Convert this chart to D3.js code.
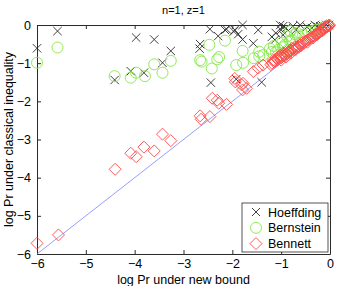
<!DOCTYPE html>
<html>
<head>
<meta charset="utf-8">
<script src="https://cdn.jsdelivr.net/npm/d3@7"></script>
<style>
  body { margin: 0; background: #fff; }
  svg text { font-family: "Liberation Sans", Arial, sans-serif; fill: #000; }
</style>
</head>
<body>
<svg width="341" height="286"></svg>
<script>
// points: [new bound, classical]
let hoeffding = [
  [-6.0, -0.61], [-5.58, -0.16], [-4.41, -1.44], [-4.08, -1.21], [-3.97, -0.33],
  [-3.81, -1.25], [-3.60, -0.38], [-3.43, -0.99], [-3.26, -0.68], [-2.66, -0.50],
  [-2.67, -0.62], [-2.46, -0.11], [-2.44, -1.51], [-2.29, -0.29], [-2.12, -0.11],
  [-2.15, -0.13], [-1.97, -0.17], [-1.95, -0.13], [-1.92, -1.42], [-1.88, -0.24],
  [-1.79, 0], [-1.79, -0.38], [-1.57, -0.48], [-1.47, -0.13], [-1.40, -1.50],
  [-1.02, 0], [-0.96, -0.03], [-1.00, -0.13], [-1.11, -0.21], [-1.19, -0.31],
  [-0.96, -0.26], [-1.13, -0.39], [-0.76, -0.03], [-0.61, 0], [-0.47, -0.05],
  [-0.31, 0], [-0.20, -0.03], [-0.08, 0], [-0.02, 0], [-0.70, -0.13],
  [-0.90, -0.08], [-0.37, -0.08], [-0.25, -0.05], [-0.14, -0.03]
];

let bernstein = [
  [-6.0, -0.99], [-5.58, -0.59], [-4.41, -1.34], [-4.08, -1.38], [-3.97, -1.25],
  [-3.79, -1.34], [-3.60, -1.03], [-3.43, -1.25], [-3.26, -0.94], [-2.66, -0.92],
  [-2.63, -0.96], [-2.47, -0.52], [-2.42, -1.14], [-2.31, -0.90], [-2.27, -0.84],
  [-2.15, -0.41], [-1.92, -1.05], [-1.79, -0.68], [-1.78, -0.99], [-1.56, -0.87],
  [-1.45, -0.70], [-1.45, -0.82], [-1.37, -0.79], [-1.19, -0.71], [-1.11, -0.71],
  [-1.06, -0.65], [-1.00, -0.79], [-0.96, -0.58], [-0.92, -0.52], [-0.86, -0.65],
  [-0.82, -0.42], [-0.78, -0.39], [-0.82, -0.16], [-0.72, -0.24], [-0.63, -0.31],
  [-0.55, -0.26], [-0.45, -0.18], [-0.37, -0.16], [-0.29, -0.13], [-0.20, -0.10],
  [-0.12, -0.05], [-0.04, -0.03], [-1.23, -0.62], [-1.15, -0.55], [-0.98, -0.46],
  [-0.88, -0.30], [-0.68, -0.20]
];

let bennett = [
  [-6.0, -5.72], [-5.56, -5.50], [-4.40, -3.78], [-4.08, -3.36], [-3.97, -3.45],
  [-3.81, -3.20], [-3.60, -3.30], [-3.43, -2.86], [-3.26, -3.03], [-2.66, -2.38],
  [-2.64, -2.47], [-2.46, -2.40], [-2.41, -1.92], [-2.31, -1.97], [-2.28, -2.05],
  [-2.12, -2.08], [-1.95, -1.40], [-1.94, -1.49], [-1.81, -1.57], [-1.79, -1.70],
  [-1.78, -1.53], [-1.71, -1.66], [-1.57, -1.22], [-1.47, -1.13], [-1.37, -1.05],
  [-1.19, -1.00], [-1.16, -0.92], [-1.12, -0.95], [-1.09, -0.87], [-1.05, -0.84],
  [-1.02, -0.79], [-0.99, -0.81], [-0.96, -0.74], [-0.91, -0.72], [-0.85, -0.70],
  [-0.81, -0.66], [-0.78, -0.61], [-0.75, -0.62], [-0.72, -0.57], [-0.66, -0.55],
  [-0.61, -0.52], [-0.58, -0.47], [-0.55, -0.44], [-0.50, -0.43], [-0.44, -0.39],
  [-0.40, -0.33], [-0.37, -0.31], [-0.32, -0.29], [-0.27, -0.26], [-0.23, -0.21],
  [-0.20, -0.17], [-0.17, -0.13], [-0.14, -0.09], [-0.10, -0.06], [-0.07, -0.02],
  [-0.03, -0.01], [-0.01, 0], [-1.21, -1.04], [-1.14, -0.97], [-1.07, -0.91],
  [-1.00, -0.86], [-0.94, -0.80], [-0.88, -0.76], [-0.83, -0.71], [-0.80, -0.74],
  [-0.74, -0.66], [-0.69, -0.60], [-0.64, -0.58], [-0.59, -0.54], [-0.53, -0.48],
  [-0.48, -0.41], [-0.46, -0.45], [-0.42, -0.36], [-0.35, -0.34], [-0.30, -0.25],
  [-0.25, -0.23], [-0.21, -0.18], [-0.16, -0.16], [-0.12, -0.11], [-0.08, -0.05],
  [-0.05, -0.04], [-0.02, -0.02], [-1.00, -0.92], [-0.90, -0.84], [-0.70, -0.64]
];

let xTicks = [-6, -5, -4, -3, -2, -1, 0];
let yTicks = [-6, -5, -4, -3, -2, -1, 0];
let legendNames = ["Hoeffding", "Bernstein", "Bennett"];

let svg = d3.select("svg");
let plotLeft = 37, plotRight = 330, plotTop = 25, plotBottom = 254;

let x = d3.scaleLinear().domain([-6, 0]).range([plotLeft, plotRight]);
let y = d3.scaleLinear().domain([-6, 0]).range([plotBottom, plotTop]);

let green = "#84e84a";
let red = "#ff4848";
let gray = "#2a2a2a";

// title and labels
svg.append("text")
  .attr("x", (plotLeft + plotRight) / 2).attr("y", 14)
  .attr("text-anchor", "middle").attr("font-size", "11px")
  .text("n=1, z=1");

svg.append("text")
  .attr("x", (plotLeft + plotRight) / 2).attr("y", 283.5)
  .attr("text-anchor", "middle").attr("font-size", "12.5px")
  .text("log Pr under new bound");

svg.append("text")
  .attr("transform", "translate(13," + ((plotTop + plotBottom) / 2) + ") rotate(-90)")
  .attr("text-anchor", "middle").attr("font-size", "12.5px")
  .text("log Pr under classical inequality");

// axes, ticks inside
let fmt = d => d < 0 ? "\u2212" + Math.abs(d) : d;
svg.append("g").attr("transform", "translate(0," + plotBottom + ")")
  .call(d3.axisBottom(x).tickValues(xTicks).tickSizeInner(-4).tickSizeOuter(0)
    .tickPadding(5).tickFormat(fmt));
svg.append("g").attr("transform", "translate(" + plotLeft + ",0)")
  .call(d3.axisLeft(y).tickValues(yTicks).tickSizeInner(-4).tickSizeOuter(0)
    .tickPadding(6).tickFormat(fmt));
svg.append("g").attr("transform", "translate(0," + plotTop + ")")
  .call(d3.axisTop(x).tickValues(xTicks).tickSizeInner(-4).tickSizeOuter(0).tickFormat(""));
svg.append("g").attr("transform", "translate(" + plotRight + ",0)")
  .call(d3.axisRight(y).tickValues(yTicks).tickSizeInner(-4).tickSizeOuter(0).tickFormat(""));

svg.selectAll(".domain").attr("stroke", gray);
svg.selectAll(".tick line").attr("stroke", gray);
svg.selectAll(".tick text").attr("font-size", "12.5px").attr("fill", "#000")
  .attr("font-family", "Liberation Sans, Arial, sans-serif");

// diagonal reference
svg.append("line")
  .attr("x1", x(-6)).attr("y1", y(-6)).attr("x2", x(0)).attr("y2", y(0))
  .attr("stroke", "#7b84ff").attr("stroke-width", 0.8);

function drawCross(g, px, py, s) {
  g.append("path")
    .attr("d", "M" + (px - s) + "," + (py - s) + "L" + (px + s) + "," + (py + s) +
      "M" + (px - s) + "," + (py + s) + "L" + (px + s) + "," + (py - s))
    .attr("stroke", gray).attr("stroke-width", 0.9).attr("fill", "none");
}
function drawCircle(g, px, py) {
  g.append("circle").attr("cx", px).attr("cy", py).attr("r", 5.5)
    .attr("stroke", green).attr("stroke-width", 0.9).attr("fill", "none");
}
function drawDiamond(g, px, py) {
  let s = 6;
  g.append("path")
    .attr("d", "M" + px + "," + (py - s) + "L" + (px + s) + "," + py + "L" + px + "," + (py + s) +
      "L" + (px - s) + "," + py + "Z")
    .attr("stroke", red).attr("stroke-width", 0.9).attr("fill", "none");
}

let marks = svg.append("g");
hoeffding.forEach(d => drawCross(marks, x(d[0]), y(d[1]), 4.2));
bernstein.forEach(d => drawCircle(marks, x(d[0]), y(d[1])));
bennett.forEach(d => drawDiamond(marks, x(d[0]), y(d[1])));

// legend
let lg = svg.append("g");
lg.append("rect").attr("x", 242).attr("y", 203).attr("width", 86).attr("height", 49)
  .attr("fill", "#fff").attr("stroke", gray).attr("stroke-width", 0.8);
legendNames.forEach((name, i) => {
  let ly = 212 + i * 15.8;
  if (i === 0) drawCross(lg, 256, ly, 4);
  if (i === 1) drawCircle(lg, 256, ly);
  if (i === 2) drawDiamond(lg, 256, ly);
  lg.append("text").attr("x", 268).attr("y", ly + 4.5)
    .attr("font-size", "12.5px").text(name);
});
</script>
</body>
</html>
